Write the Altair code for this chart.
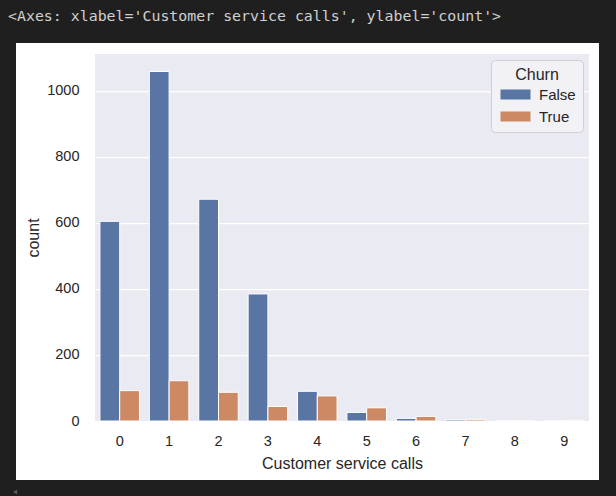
import altair as alt
import pandas as pd

calls = ["0", "1", "2", "3", "4", "5", "6", "7", "8", "9"]
false_counts = [605, 1059, 672, 385, 90, 26, 8, 4, 1, 0]
true_counts = [92, 122, 87, 44, 76, 40, 14, 5, 1, 2]
churn_levels = ["False", "True"]
y_ticks = [0, 200, 400, 600, 800, 1000]
header = "<Axes: xlabel='Customer service calls', ylabel='count'>"

rows = []
for c, f, t in zip(calls, false_counts, true_counts):
    rows.append({"calls": c, "Churn": "False", "count": f})
    rows.append({"calls": c, "Churn": "True", "count": t})
df = pd.DataFrame(rows)

FONT = "Liberation Sans"
TXT = "#262626"
DARK = "#1f1f1f"
W, H = 494, 367

bars = alt.Chart(df).mark_bar(stroke="white", strokeWidth=1).encode(
    x=alt.X("calls:N", sort=calls,
            scale=alt.Scale(paddingInner=0, paddingOuter=0),
            axis=alt.Axis(title="Customer service calls", labelAngle=0, grid=False,
                          ticks=False, domain=False, labelPadding=13, titlePadding=8)),
    xOffset=alt.XOffset("Churn:N", sort=churn_levels,
                        scale=alt.Scale(paddingInner=0, paddingOuter=0.25)),
    y=alt.Y("count:Q", scale=alt.Scale(domain=[0, 1112], nice=False),
            axis=alt.Axis(title="count", values=y_ticks, format="d", grid=True,
                          gridColor="white", gridWidth=1.25, ticks=False, domain=False,
                          labelPadding=16, titlePadding=5)),
    color=alt.Color("Churn:N", sort=churn_levels,
                    scale=alt.Scale(domain=churn_levels, range=["#5975a4", "#cc8963"]),
                    legend=alt.Legend(orient="none", legendX=396, legendY=6,
                                      title="Churn", titleFontSize=16, titleFont=FONT,
                                      titleFontWeight="normal", titleColor=TXT,
                                      titleAnchor="middle", titleAlign="center",
                                      titlePadding=4,
                                      labelFontSize=15, labelFont=FONT, labelColor=TXT,
                                      symbolType="M-1,-1H5V1H-1Z", symbolSize=100,
                                      symbolStrokeWidth=0, labelOffset=26,
                                      rowPadding=6, padding=7,
                                      fillColor="#f2f2f6", strokeColor="#d0d0d0",
                                      cornerRadius=4)),
)

one = pd.DataFrame({"d": [0]})

def dark_rect(x, x2, y, y2):
    return alt.Chart(one).mark_rect(color=DARK).encode(
        x=alt.value(x), x2=alt.value(x2), y=alt.value(y), y2=alt.value(y2))

frame = [
    dark_rect(-95, 521, -54, -11),
    dark_rect(-95, -79, -54, 442),
    dark_rect(504, 521, -54, 442),
    dark_rect(-95, 521, 426, 442),
]

head = alt.Chart(one).mark_text(align="left", baseline="middle", font="DejaVu Sans Mono",
                                fontSize=14.9, color="#d0d0d0").encode(
    x=alt.value(-87), y=alt.value(-37), text=alt.value(header))

tri = alt.Chart(one).mark_point(shape="triangle-left", filled=True, size=25,
                                color="#5a5a5a", opacity=1).encode(
    x=alt.value(-80), y=alt.value(438))

chart = alt.layer(bars, *frame, head, tri).properties(
    width=W, height=H,
    padding={"left": 95, "top": 54, "right": 27, "bottom": 75},
    autosize=alt.AutoSizeParams(type="none"),
    background="white",
).configure_view(fill="#eaeaf2", stroke=None).configure_axis(
    labelFont=FONT, labelFontSize=14.5, labelColor=TXT,
    titleFont=FONT, titleFontSize=16, titleFontWeight="normal", titleColor=TXT,
)

chart.save("out.html", embed_options={"renderer": "svg", "actions": False})
